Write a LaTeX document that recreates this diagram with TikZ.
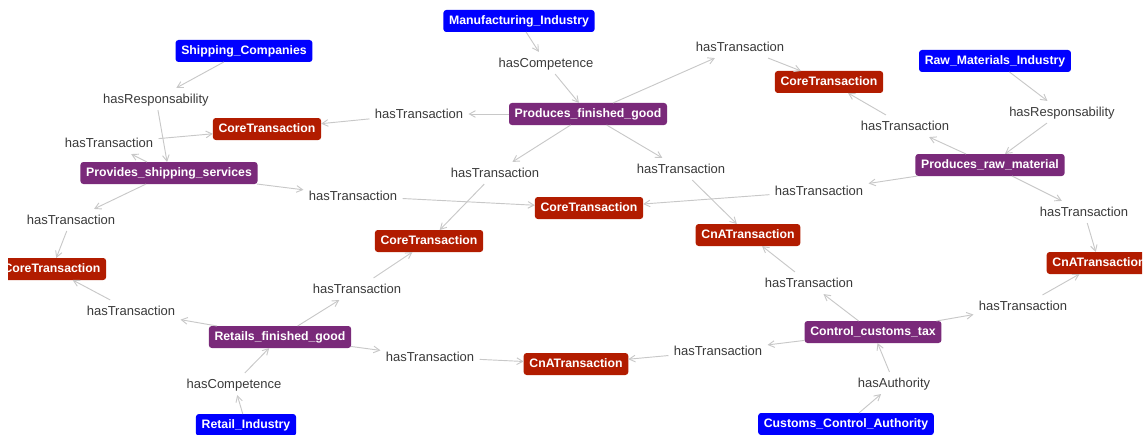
\documentclass[tikz,border=0pt]{standalone}
\usepackage{fontspec}
\setmainfont{Liberation Sans}
\usetikzlibrary{arrows.meta}
\definecolor{entblue}{HTML}{0000FF}
\definecolor{procpurple}{HTML}{7A2A7A}
\definecolor{transred}{HTML}{B21C00}
\definecolor{edgegray}{HTML}{C8C8C8}
\definecolor{labelgray}{HTML}{3A3A3A}
\tikzset{
  box/.style={rounded corners=2.2pt, text=white, outer sep=0pt,
    font=\bfseries\fontsize{9.2}{11}\selectfont, inner xsep=4.3pt, inner ysep=0pt,
    minimum height=16.5pt, text height=6.8pt, text depth=1.6pt},
  entity/.style={box, fill=entblue},
  process/.style={box, fill=procpurple},
  trans/.style={box, fill=transred},
  rel/.style={text=labelgray, font=\fontsize{9.75}{12}\selectfont,
    inner xsep=3.8pt, inner ysep=4.6pt, text height=7pt, text depth=0pt},
  link/.style={draw=edgegray, line width=0.7pt,
    -{Straight Barb[length=4.5pt,width=5pt,line width=0.7pt]}},
}
\begin{document}
\begin{tikzpicture}[x=0.75pt,y=-0.75pt]
\useasboundingbox (0,0) rectangle (1146,435);
\clip (8,0) rectangle (1142,436);

% actors
\node[entity]  (shipco)  at (244,51)  {Shipping\_Companies};
\node[entity]  (manuf)   at (519,21)  {Manufacturing\_Industry};
\node[entity]  (rawind)  at (995,61)  {Raw\_Materials\_Industry};
\node[entity]  (retind)  at (246,425) {Retail\_Industry};
\node[entity]  (customs) at (846,424) {Customs\_Control\_Authority};

% processes
\node[process] (pss) at (169,173) {Provides\_shipping\_services};
\node[process] (pfg) at (588,114) {Produces\_finished\_good};
\node[process] (prm) at (990,165) {Produces\_raw\_material};
\node[process] (rfg) at (280,337) {Retails\_finished\_good};
\node[process] (cct) at (873,332) {Control\_customs\_tax};

% transactions
\node[trans] (coreA) at (267,129)  {CoreTransaction};
\node[trans] (coreB) at (829,82)   {CoreTransaction};
\node[trans] (coreC) at (589,208)  {CoreTransaction};
\node[trans] (coreD) at (429,241)  {CoreTransaction};
\node[trans] (coreE) at (52,269)   {CoreTransaction};
\node[trans] (cnaA)  at (748,235)  {CnATransaction};
\node[trans] (cnaB)  at (576,364)  {CnATransaction};
\node[trans] (cnaC)  at (1099,263) {CnATransaction};

% relations
\node[rel] (l1)  at (156,99)   {hasResponsability};
\node[rel] (l2)  at (109,143)  {hasTransaction};
\node[rel] (l3)  at (353,196)  {hasTransaction};
\node[rel] (l4)  at (71,220)   {hasTransaction};
\node[rel] (l5)  at (546,63)   {hasCompetence};
\node[rel] (l6)  at (419,114)  {hasTransaction};
\node[rel] (l7)  at (740,47)   {hasTransaction};
\node[rel] (l8)  at (495,173)  {hasTransaction};
\node[rel] (l9)  at (681,169)  {hasTransaction};
\node[rel] (l10) at (1062,112) {hasResponsability};
\node[rel] (l11) at (905,126)  {hasTransaction};
\node[rel] (l12) at (819,191)  {hasTransaction};
\node[rel] (l13) at (1084,212) {hasTransaction};
\node[rel] (l14) at (234,384)  {hasCompetence};
\node[rel] (l15) at (131,311)  {hasTransaction};
\node[rel] (l16) at (357,289)  {hasTransaction};
\node[rel] (l17) at (430,357)  {hasTransaction};
\node[rel] (l18) at (894,383)  {hasAuthority};
\node[rel] (l19) at (809,283)  {hasTransaction};
\node[rel] (l20) at (718,351)  {hasTransaction};
\node[rel] (l21) at (1023,306) {hasTransaction};

% connectors
\draw[link] (shipco) -- (l1);
\draw[link] (l1) -- (pss);
\draw[link] (pss) -- (l2);
\draw[link] (l2) -- (coreA);
\draw[link] (pss) -- (l3);
\draw[link] (l3) -- (coreC);
\draw[link] (pss) -- (l4);
\draw[link] (l4) -- (coreE);

\draw[link] (manuf) -- (l5);
\draw[link] (l5) -- (pfg);
\draw[link] (pfg) -- (l6);
\draw[link] (l6) -- (coreA);
\draw[link] (pfg) -- (l7);
\draw[link] (l7) -- (coreB);
\draw[link] (pfg) -- (l8);
\draw[link] (l8) -- (coreD);
\draw[link] (pfg) -- (l9);
\draw[link] (l9) -- (cnaA);

\draw[link] (rawind) -- (l10);
\draw[link] (l10) -- (prm);
\draw[link] (prm) -- (l11);
\draw[link] (l11) -- (coreB);
\draw[link] (prm) -- (l12);
\draw[link] (l12) -- (coreC);
\draw[link] (prm) -- (l13);
\draw[link] (l13) -- (cnaC);

\draw[link] (retind) -- (l14);
\draw[link] (l14) -- (rfg);
\draw[link] (rfg) -- (l15);
\draw[link] (l15) -- (coreE);
\draw[link] (rfg) -- (l16);
\draw[link] (l16) -- (coreD);
\draw[link] (rfg) -- (l17);
\draw[link] (l17) -- (cnaB);

\draw[link] (customs) -- (l18);
\draw[link] (l18) -- (cct);
\draw[link] (cct) -- (l19);
\draw[link] (l19) -- (cnaA);
\draw[link] (cct) -- (l20);
\draw[link] (l20) -- (cnaB);
\draw[link] (cct) -- (l21);
\draw[link] (l21) -- (cnaC);
\end{tikzpicture}
\end{document}
